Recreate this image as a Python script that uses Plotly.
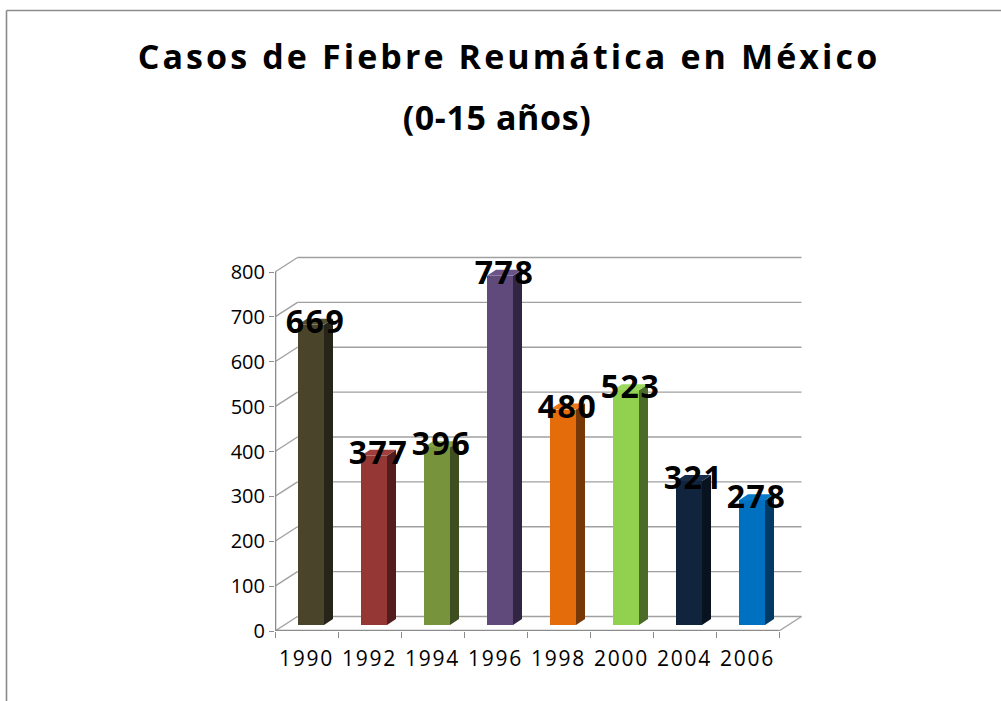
import plotly.graph_objects as go

# ---------------- data ----------------
years = ["1990", "1992", "1994", "1996", "1998", "2000", "2004", "2006"]
cases = [669, 377, 396, 778, 480, 523, 321, 278]
front_colors = ["#4A452A", "#953735", "#77933C", "#604A7B", "#E46C0A", "#92D050", "#10243E", "#0070C0"]
side_colors = ["#27241A", "#521D1C", "#3F4E21", "#302641", "#763806", "#4B6B29", "#08131F", "#003A65"]
top_colors = ["#565033", "#A03E3C", "#82A043", "#6B5487", "#EC7716", "#9DD85E", "#172D4A", "#0A7AC8"]
y_ticks = [0, 100, 200, 300, 400, 500, 600, 700, 800]
title_line1 = "Casos de Fiebre Reumática en México"
title_line2 = "(0-15 años)"

# ---------------- geometry (pixels) ----------------
W, H = 1001, 701
L, R, T, B = 275, 195, 250, 70
plot_w = W - L - R
plot_h = H - T - B
px_per_cat = 63.0
px_per_unit = 359.0 / 800.0
x0 = -0.5
x1 = x0 + plot_w / px_per_cat
y1 = plot_h / px_per_unit


def dxu(px):
    return px / px_per_cat


def dyu(px):
    return px / px_per_unit


wall_dx, wall_dy = dxu(22.5), dyu(14.5)
bar_w = dxu(26)
bar_shift = dxu(4.5)
bar_base = dyu(6)
depth_dx, depth_dy = dxu(9), dyu(6)

idx = list(range(len(years)))
n = len(years)

fig = go.Figure()

# front faces
fig.add_trace(go.Bar(
    x=idx, y=cases, base=bar_base, width=bar_w, offset=bar_shift - bar_w / 2,
    marker=dict(color=front_colors, line=dict(width=0)),
    hoverinfo="skip", showlegend=False,
))

# side and top faces
for i, v in enumerate(cases):
    left = i + bar_shift - bar_w / 2
    right = left + bar_w
    bot = bar_base
    top = bar_base + v
    fig.add_trace(go.Scatter(
        x=[right, right + depth_dx, right + depth_dx, right, right],
        y=[bot, bot + depth_dy, top + depth_dy, top, bot],
        fill="toself", fillcolor=side_colors[i], mode="lines",
        line=dict(width=0, color=side_colors[i]), hoverinfo="skip", showlegend=False,
    ))
    fig.add_trace(go.Scatter(
        x=[left, right, right + depth_dx, left + depth_dx, left],
        y=[top, top, top + depth_dy, top + depth_dy, top],
        fill="toself", fillcolor=top_colors[i], mode="lines",
        line=dict(width=0, color=top_colors[i]), hoverinfo="skip", showlegend=False,
    ))

# data labels
fig.add_trace(go.Scatter(
    x=[i + bar_shift - bar_w / 2 + (bar_w + depth_dx) / 2 for i in idx],
    y=[bar_base + v for v in cases],
    mode="text", text=[str(v) for v in cases], textposition="middle center",
    textfont=dict(family="Open Sans", size=32, color="black", weight="bold"),
    cliponaxis=False, hoverinfo="skip", showlegend=False,
))

grid_color = "#A0A0A0"
shapes = []
# back wall gridlines and left wall diagonals
for t in y_ticks:
    shapes.append(dict(type="line", xref="x", yref="y", layer="below",
                       x0=x0 + wall_dx, x1=n - 0.5 + wall_dx, y0=t + wall_dy, y1=t + wall_dy,
                       line=dict(color=grid_color, width=1.3)))
    shapes.append(dict(type="line", xref="x", yref="y", layer="below",
                       x0=x0, x1=x0 + wall_dx, y0=t, y1=t + wall_dy,
                       line=dict(color=grid_color, width=1.3)))
# floor right diagonal
shapes.append(dict(type="line", xref="x", yref="y", layer="below",
                   x0=n - 0.5, x1=n - 0.5 + wall_dx, y0=0, y1=wall_dy,
                   line=dict(color=grid_color, width=1.3)))
# floor front edge (half clipped by plot edge)
shapes.append(dict(type="line", xref="x", yref="y", layer="below",
                   x0=x0, x1=n - 0.5, y0=0, y1=0,
                   line=dict(color="#8C8C8C", width=2.6)))
# front vertical axis
shapes.append(dict(type="line", xref="x", yref="y", layer="below",
                   x0=x0, x1=x0, y0=0, y1=y_ticks[-1],
                   line=dict(color="#8C8C8C", width=2.6)))


# chart area border
def px_to_paper_x(px):
    return (px - L) / plot_w


def px_to_paper_y(py):
    return (H - B - py) / plot_h


shapes.append(dict(type="line", xref="paper", yref="paper",
                   x0=px_to_paper_x(6.5), x1=px_to_paper_x(1030),
                   y0=px_to_paper_y(10.5), y1=px_to_paper_y(10.5),
                   line=dict(color="#8C8C8C", width=1.6)))
shapes.append(dict(type="line", xref="paper", yref="paper",
                   x0=px_to_paper_x(6.5), x1=px_to_paper_x(6.5),
                   y0=px_to_paper_y(10.5), y1=px_to_paper_y(730),
                   line=dict(color="#8C8C8C", width=1.6)))

fig.update_layout(
    width=W, height=H,
    margin=dict(l=L, r=R, t=T, b=B, pad=0),
    paper_bgcolor="white", plot_bgcolor="white",
    showlegend=False,
    shapes=shapes,
    title=dict(text=title_line1, x=509 / W, xanchor="center", xref="container",
               y=1 - 57 / H, yanchor="middle", yref="container",
               font=dict(family="Open Sans", size=34, color="black", weight="bold")),
    annotations=[dict(text=title_line2, xref="paper", yref="paper",
                      x=px_to_paper_x(497), y=px_to_paper_y(117),
                      xanchor="center", yanchor="middle", showarrow=False,
                      font=dict(family="Open Sans", size=34, color="black", weight="bold"))],
    xaxis=dict(range=[x0, x1], tickmode="array", tickvals=idx, ticktext=years,
               ticks="", showgrid=False, zeroline=False, showline=False,
               tickfont=dict(family="Open Sans", size=21, color="black"),
               minor=dict(tickmode="linear", tick0=-0.5, dtick=1, ticks="outside",
                          ticklen=6, tickwidth=1.2, tickcolor="#8C8C8C", showgrid=False),
               ticklabelstandoff=13, automargin=False, fixedrange=True),
    yaxis=dict(range=[0, y1], tickmode="array", tickvals=y_ticks,
               ticks="outside", ticklen=5, tickwidth=1.2, tickcolor="#8C8C8C",
               showgrid=False, zeroline=False, showline=False,
               tickfont=dict(family="Open Sans", size=20, color="black"),
               automargin=False, fixedrange=True),
    bargap=0,
)

post = """
document.body.style.margin='0';
var gd = document.getElementById('{plot_id}');
function ls(sel, v) { gd.querySelectorAll(sel).forEach(function(e){ e.style.letterSpacing = v; }); }
ls('.gtitle', '3.1px');
ls('.annotation-text', '0.6px');
ls('.xtick text', '1.8px');
ls('.textpoint text', '1.5px');
"""

fig.write_html("out.html", config={"displayModeBar": False}, post_script=post)
